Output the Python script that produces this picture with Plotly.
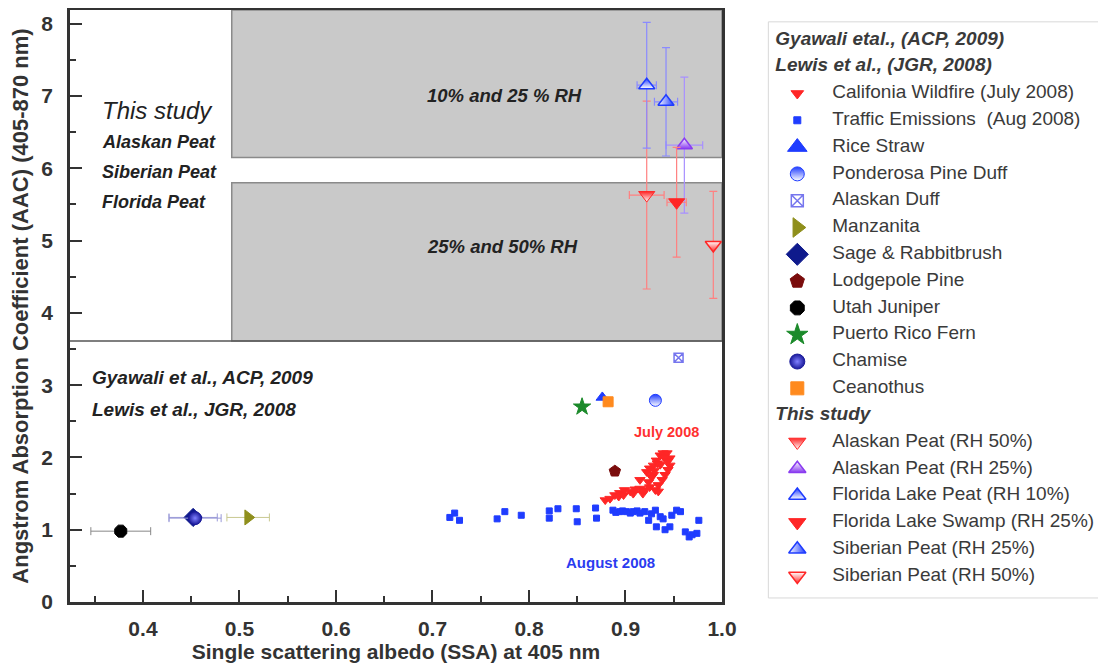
import plotly.graph_objects as go

# ---------------- data ----------------
wildfire_ssa = [0.879, 0.884, 0.889, 0.893, 0.894, 0.898, 0.899, 0.905, 0.908, 0.910, 0.915, 0.915,
                0.918, 0.920, 0.925, 0.931, 0.934, 0.929, 0.922, 0.925, 0.929, 0.932, 0.936, 0.939,
                0.943, 0.946, 0.946, 0.944, 0.941, 0.938, 0.934, 0.927, 0.924, 0.933, 0.940, 0.944,
                0.930, 0.936]
wildfire_aac = [1.41, 1.43, 1.48, 1.46, 1.51, 1.48, 1.55, 1.53, 1.50, 1.56, 1.69, 1.57,
                1.50, 1.55, 1.59, 1.55, 1.53, 1.76, 1.80, 1.85, 1.89, 1.96, 2.03, 2.06,
                2.06, 1.99, 1.89, 1.83, 1.76, 1.69, 1.62, 1.73, 1.66, 1.92, 2.00, 1.95,
                1.82, 1.90]

traffic_ssa = [0.718, 0.723, 0.728, 0.767, 0.775, 0.792, 0.821, 0.821, 0.830, 0.849, 0.850, 0.869,
               0.870, 0.887, 0.890, 0.894, 0.897, 0.901, 0.905, 0.908, 0.912, 0.915, 0.920, 0.924,
               0.927, 0.931, 0.932, 0.936, 0.939, 0.941, 0.946, 0.948, 0.953, 0.957, 0.962, 0.966,
               0.969, 0.974, 0.976]
traffic_aac = [1.17, 1.23, 1.13, 1.15, 1.25, 1.20, 1.26, 1.16, 1.29, 1.29, 1.11, 1.30,
               1.16, 1.27, 1.24, 1.25, 1.26, 1.25, 1.23, 1.25, 1.26, 1.23, 1.25, 1.13,
               1.22, 1.27, 1.04, 1.18, 1.15, 1.00, 1.04, 1.20, 1.27, 1.25, 0.97, 0.90,
               0.93, 0.95, 1.13]

lit_names = ["Rice Straw", "Ponderosa Pine Duff", "Alaskan Duff", "Manzanita", "Sage & Rabbitbrush",
             "Lodgepole Pine", "Utah Juniper", "Puerto Rico Fern", "Chamise", "Ceanothus"]
lit_ssa = [0.876, 0.931, 0.955, 0.509, 0.452, 0.889, 0.377, 0.855, 0.454, 0.882]
lit_aac = [2.83, 2.79, 3.38, 1.17, 1.17, 1.81, 0.98, 2.70, 1.16, 2.77]
lit_ssa_err = [0.0, 0.0, 0.0, 0.022, 0.025, 0.0, 0.031, 0.0, 0.027, 0.0]

study_names = ["Alaskan Peat (RH 50%)", "Alaskan Peat (RH 25%)", "Florida Lake Peat (RH 10%)",
               "Florida Lake Swamp (RH 25%)", "Siberian Peat (RH 25%)", "Siberian Peat (RH 50%)"]
study_ssa = [0.922, 0.961, 0.922, 0.953, 0.942, 0.991]
study_aac = [5.63, 6.32, 7.15, 5.53, 6.92, 4.94]
study_ssa_err = [0.018, 0.019, 0.010, 0.010, 0.012, 0.0]
study_aac_err = [1.30, 0.94, 0.87, 0.76, 0.75, 0.74]

wildfire_name = "Califonia Wildfire (July 2008)"
traffic_name = "Traffic Emissions\u00a0 (Aug 2008)"
lit_header = ["Gyawali etal., (ACP, 2009)", "Lewis et al., (JGR, 2008)"]
study_header = "This study"

x_ticks = [0.4, 0.5, 0.6, 0.7, 0.8, 0.9, 1.0]
x_ticklabels = ["0.4", "0.5", "0.6", "0.7", "0.8", "0.9", "1.0"]
y_ticks = [0, 1, 2, 3, 4, 5, 6, 7, 8]

# ---------------- styles ----------------
FONT = "Liberation Sans, Arial, sans-serif"
BLUE = "#1f3cff"
RED = "#ff2626"
styles = {
    wildfire_name: dict(symbol="triangle-down", color=RED, size=9, lsize=11),
    traffic_name: dict(symbol="square", color=BLUE, size=6, lsize=7),
    "Rice Straw": dict(symbol="triangle-up", color=BLUE, size=11, lsize=17),
    "Ponderosa Pine Duff": dict(symbol="circle", color=BLUE, grad=("vertical", "white"), size=12, lsize=14),
    "Alaskan Duff": dict(symbol="square-x-open", color="#7676ee", size=9, lsize=12, lw=1.5),
    "Manzanita": dict(symbol="triangle-right", color="#8f8f1c", size=13, lsize=17, err="#c8c890"),
    "Sage & Rabbitbrush": dict(symbol="diamond", color="#0f1a8c", size=14, lsize=17, err="#9a9ad8"),
    "Lodgepole Pine": dict(symbol="pentagon", color="#7a0c0c", size=12, lsize=15),
    "Utah Juniper": dict(symbol="octagon", color="#000000", size=13, lsize=15, err="#888888"),
    "Puerto Rico Fern": dict(symbol="star", color="#1b8a2a", size=13, lsize=16),
    "Chamise": dict(symbol="circle", color="#1a1a9a", grad=("radial", "#8080ff"), size=13, lsize=15, err="#9a9ad8"),
    "Ceanothus": dict(symbol="square", color="#ff8a1e", size=10, lsize=13),
    "Alaskan Peat (RH 50%)": dict(symbol="triangle-down", color=RED, grad=("vertical", "white"), size=14, lsize=15, err="#ff8080"),
    "Alaskan Peat (RH 25%)": dict(symbol="triangle-up", color="white", grad=("vertical", "#8a3cf0"), line="#8a3cf0", lw=1.5, size=14, lsize=15, err="#a890ff"),
    "Florida Lake Peat (RH 10%)": dict(symbol="triangle-up", color=BLUE, grad=("vertical", "white"), lw=1.5, size=14, lsize=15, err="#8a8aff"),
    "Florida Lake Swamp (RH 25%)": dict(symbol="triangle-down", color=RED, size=14, lsize=15, err="#ff8080"),
    "Siberian Peat (RH 25%)": dict(symbol="triangle-up", color="white", grad=("horizontal", BLUE), line=BLUE, lw=1.5, size=14, lsize=15, err="#8a8aff"),
    "Siberian Peat (RH 50%)": dict(symbol="triangle-down", color="white", grad=("vertical", RED), line=RED, lw=1.5, size=14, lsize=15, err="#ff8080"),
}


def make_marker(st, size):
    m = dict(symbol=st["symbol"], color=st["color"], size=size,
             line=dict(color=st.get("line", st["color"]), width=st.get("lw", 1)))
    if "grad" in st:
        m["gradient"] = dict(type=st["grad"][0], color=st["grad"][1])
    return m


fig = go.Figure()

# ---------------- main panel ----------------
fig.add_trace(go.Scatter(x=traffic_ssa, y=traffic_aac, mode="markers", name=traffic_name,
                         marker=make_marker(styles[traffic_name], styles[traffic_name]["size"]),
                         xaxis="x", yaxis="y", showlegend=False))
fig.add_trace(go.Scatter(x=wildfire_ssa, y=wildfire_aac, mode="markers", name=wildfire_name,
                         marker=make_marker(styles[wildfire_name], styles[wildfire_name]["size"]),
                         xaxis="x", yaxis="y", showlegend=False))

for name, sx, sy, ex in zip(lit_names, lit_ssa, lit_aac, lit_ssa_err):
    st = styles[name]
    tr = dict(x=[sx], y=[sy], mode="markers", name=name, marker=make_marker(st, st["size"]),
              xaxis="x", yaxis="y", showlegend=False)
    if ex > 0:
        tr["error_x"] = dict(type="data", array=[ex], color=st.get("err", "#999"), thickness=1, width=4)
    fig.add_trace(go.Scatter(**tr))

for name, sx, sy, ex, ey in zip(study_names, study_ssa, study_aac, study_ssa_err, study_aac_err):
    st = styles[name]
    tr = dict(x=[sx], y=[sy], mode="markers", name=name, marker=make_marker(st, st["size"]),
              xaxis="x", yaxis="y", showlegend=False,
              error_y=dict(type="data", array=[ey], color=st["err"], thickness=1.2, width=4))
    if ex > 0:
        tr["error_x"] = dict(type="data", array=[ex], color=st["err"], thickness=1.2, width=4)
    fig.add_trace(go.Scatter(**tr))

# ---------------- legend panel (manual) ----------------
legend_rows = lit_header + [wildfire_name, traffic_name] + lit_names + [study_header] + study_names
headers = set(lit_header + [study_header])

text_x, text_y, text_s = [], [], []
for k, name in enumerate(legend_rows):
    if name in headers:
        text_x.append(7)
        text_y.append(k)
        text_s.append("<b><i>%s</i></b>" % name)
        continue
    st = styles[name]
    fig.add_trace(go.Scatter(x=[29], y=[k], mode="markers", marker=make_marker(st, st["lsize"]),
                             xaxis="x2", yaxis="y2", showlegend=False, hoverinfo="skip"))
    text_x.append(64)
    text_y.append(k)
    text_s.append(name)

fig.add_trace(go.Scatter(x=text_x, y=text_y, mode="text", text=text_s, textposition="middle right",
                         textfont=dict(family=FONT, size=19, color="#3a3a3a"),
                         xaxis="x2", yaxis="y2", showlegend=False, hoverinfo="skip"))

# ---------------- shapes ----------------
shapes = [
    dict(type="rect", xref="x", yref="y", x0=0.492, x1=1.0, y0=6.15, y1=8.19,
         fillcolor="#c9c9c9", line=dict(color="#8a8a8a", width=1.5), layer="below"),
    dict(type="rect", xref="x", yref="y", x0=0.492, x1=1.0, y0=3.61, y1=5.80,
         fillcolor="#c9c9c9", line=dict(color="#8a8a8a", width=1.5), layer="below"),
    dict(type="line", xref="x domain", yref="y", x0=0, x1=1, y0=3.61, y1=3.61,
         line=dict(color="#555555", width=1.5)),
    dict(type="rect", xref="x2 domain", yref="y2 domain", x0=0, x1=1, y0=0, y1=1,
         line=dict(color="#d8d8d8", width=1)),
]

DARK = "#222222"
annotations = [
    dict(x=0.3554, y=6.80, text="<i>This study</i>", font=dict(family=FONT, size=24, color=DARK)),
    dict(x=0.3554, y=6.36, text="<b><i>Alaskan Peat</i></b>", font=dict(family=FONT, size=18, color=DARK)),
    dict(x=0.3554, y=5.95, text="<b><i>Siberian Peat</i></b>", font=dict(family=FONT, size=18, color=DARK)),
    dict(x=0.3554, y=5.53, text="<b><i>Florida Peat</i></b>", font=dict(family=FONT, size=18, color=DARK)),
    dict(x=0.3450, y=3.11, text="<b><i>Gyawali et al., ACP, 2009</i></b>", font=dict(family=FONT, size=19, color=DARK)),
    dict(x=0.3450, y=2.66, text="<b><i>Lewis et al., JGR, 2008</i></b>", font=dict(family=FONT, size=19, color=DARK)),
]
for a in annotations:
    a.update(xref="x", yref="y", showarrow=False, xanchor="left", yanchor="middle")
centered = [
    dict(x=0.775, y=7.01, text="<b><i>10% and 25 % RH</i></b>", font=dict(family=FONT, size=18.5, color=DARK)),
    dict(x=0.773, y=4.92, text="<b><i>25% and 50% RH</i></b>", font=dict(family=FONT, size=18.5, color=DARK)),
    dict(x=0.943, y=2.35, text="<b>July 2008</b>", font=dict(family=FONT, size=14.5, color="#ff3030")),
    dict(x=0.884, y=0.55, text="<b>August 2008</b>", font=dict(family=FONT, size=15, color="#2a3cf0")),
]
for a in centered:
    a.update(xref="x", yref="y", showarrow=False, xanchor="center", yanchor="middle")
annotations += centered

axis_common = dict(showline=True, linecolor="#333333", linewidth=2.5, mirror=True,
                   ticks="inside", ticklen=12, tickwidth=1.8, tickcolor="#333333",
                   showgrid=False, zeroline=False, automargin=False,
                   tickfont=dict(family=FONT, size=21, color="#333333", weight="bold"))

# The page body adds an 8 px margin, so the figure is 8 px smaller on each axis.
fig.update_layout(
    width=1098, height=660,
    margin=dict(l=62, r=6, t=2, b=66),
    paper_bgcolor="white", plot_bgcolor="white",
    shapes=shapes, annotations=annotations,
    xaxis=dict(domain=[0, 0.633], range=[0.3244, 1.0], tickvals=x_ticks, ticktext=x_ticklabels,
               minor=dict(ticks="inside", ticklen=6, tickwidth=1.5, tickcolor="#333333",
                          tick0=0.35, dtick=0.1, showgrid=False),
               title=dict(text="Single scattering albedo (SSA) at 405 nm", standoff=4,
                          font=dict(family=FONT, size=21, color="#333333", weight="bold")),
               ticklabelstandoff=6, anchor="y", **axis_common),
    yaxis=dict(domain=[0, 1], range=[0, 8.19], tickvals=y_ticks,
               minor=dict(ticks="inside", ticklen=6, tickwidth=1.5, tickcolor="#333333",
                          tick0=0.5, dtick=1, showgrid=False),
               title=dict(text="Angstrom Absorption Coefficient (AAC) (405-870 nm)", standoff=8,
                          font=dict(family=FONT, size=22, color="#333333", weight="bold")),
               ticklabelstandoff=10, anchor="x", **axis_common),
    xaxis2=dict(domain=[0.678, 1.0], range=[0, 332], visible=False, anchor="y2", fixedrange=True),
    yaxis2=dict(domain=[0.0068, 0.98], range=[20.82, -0.672], visible=False, anchor="x2", fixedrange=True),
    showlegend=False,
)

fig.write_html("out.html")
